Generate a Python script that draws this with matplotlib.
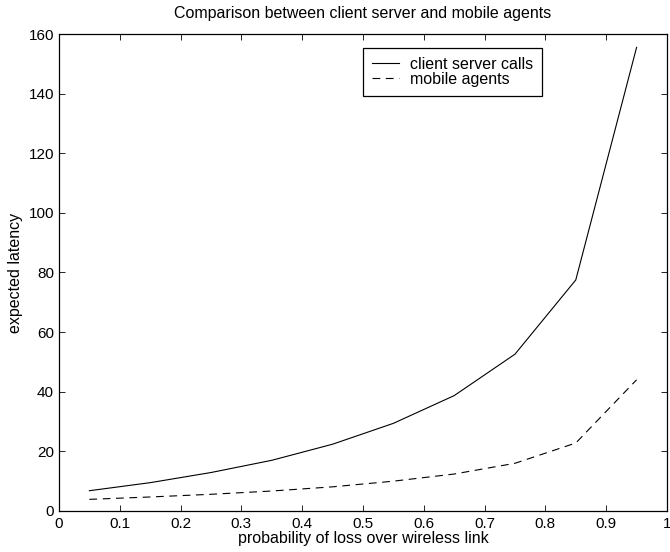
import matplotlib
matplotlib.use('Agg')
import matplotlib.pyplot as plt

# loss probability over the wireless link
loss_prob = [0.05, 0.15, 0.25, 0.35, 0.45, 0.55, 0.65, 0.75, 0.85, 0.95]
# expected latency values
client_server = [6.8, 9.5, 12.9, 17.0, 22.4, 29.4, 38.7, 52.6, 77.5, 155.5]
mobile_agents = [3.9, 4.7, 5.6, 6.7, 8.1, 10.0, 12.4, 16.0, 22.8, 44.0]

x_ticks = [0, 0.1, 0.2, 0.3, 0.4, 0.5, 0.6, 0.7, 0.8, 0.9, 1]
x_tick_labels = ['0', '0.1', '0.2', '0.3', '0.4', '0.5', '0.6', '0.7', '0.8', '0.9', '1']
y_ticks = [0, 20, 40, 60, 80, 100, 120, 140, 160]

plt.rcParams['font.family'] = ['Liberation Sans', 'DejaVu Sans']
plt.rcParams['font.size'] = 11.5

fig = plt.figure(figsize=(6.70, 5.52), dpi=100)
# axes box: x 59..667 px, y 34..511 px
ax = fig.add_axes([0.088, 0.0743, 0.9075, 0.8641])

ax.plot(loss_prob, client_server, color='black', linewidth=0.8,
        linestyle='-', label='client server calls')
ax.plot(loss_prob, mobile_agents, color='black', linewidth=0.8,
        linestyle=(0, (7, 5)), label='mobile agents')

ax.set_xlim(0, 1)
ax.set_ylim(0, 160)
ax.set_xticks(x_ticks)
ax.set_xticklabels(x_tick_labels)
ax.set_yticks(y_ticks)
ax.tick_params(direction='in', top=True, right=True, length=4.2, width=0.6,
               labelsize=11)
ax.tick_params(axis='x', pad=4.5)
ax.tick_params(axis='y', pad=3.5)
for sp in ax.spines.values():
    sp.set_linewidth(0.9)

ax.set_xlabel('probability of loss over wireless link', fontsize=11.5, labelpad=0)
ax.set_ylabel('expected latency', fontsize=11.5, labelpad=4)
ax.set_title('Comparison between client server and mobile agents', fontsize=11.5, pad=11.5)

leg = ax.legend(loc='upper left', bbox_to_anchor=(0.5, 0.9706), fancybox=False,
                framealpha=1, edgecolor='black', fontsize=11.5, handlelength=1.7,
                borderpad=0.55, labelspacing=0.0, handletextpad=0.7, borderaxespad=0)
leg.get_frame().set_linewidth(0.9)

fig.savefig('out.png', dpi=100)
